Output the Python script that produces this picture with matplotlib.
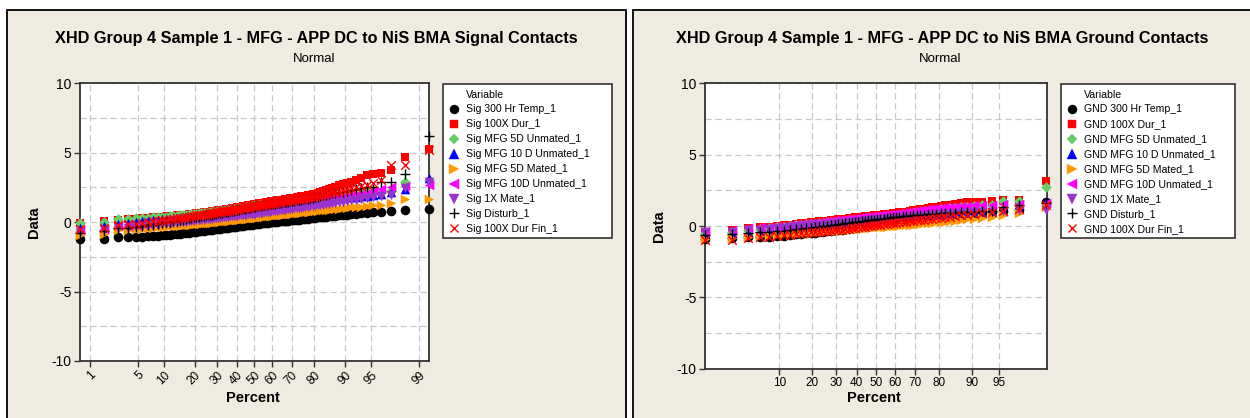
import numpy as np
import matplotlib
matplotlib.use('Agg')
import matplotlib.pyplot as plt
from matplotlib.lines import Line2D
from matplotlib.patches import Rectangle
from statistics import NormalDist

plt.rcParams['font.family'] = ['Liberation Sans', 'DejaVu Sans']
plt.rcParams['axes.unicode_minus'] = False

# ---- data: sorted values per variable ----
sig_labels = ['Sig 300 Hr Temp_1', 'Sig 100X Dur_1', 'Sig MFG 5D Unmated_1',
              'Sig MFG 10 D Unmated_1', 'Sig MFG 5D Mated_1', 'Sig MFG 10D Unmated_1',
              'Sig 1X Mate_1', 'Sig Disturb_1', 'Sig 100X Dur Fin_1']
gnd_labels = ['GND 300 Hr Temp_1', 'GND 100X Dur_1', 'GND MFG 5D Unmated_1',
              'GND MFG 10 D Unmated_1', 'GND MFG 5D Mated_1', 'GND MFG 10D Unmated_1',
              'GND 1X Mate_1', 'GND Disturb_1', 'GND 100X Dur Fin_1']

sig_300hr = [-1.22, -1.20, -1.10, -1.06, -1.05, -1.04, -1.02, -1.00, -0.98, -0.95,
             -0.93, -0.90, -0.88, -0.86, -0.83, -0.80, -0.78, -0.76, -0.73, -0.70,
             -0.68, -0.66, -0.64, -0.62, -0.60, -0.58, -0.56, -0.54, -0.52, -0.50,
             -0.48, -0.47, -0.45, -0.43, -0.42, -0.40, -0.38, -0.36, -0.34, -0.32,
             -0.31, -0.29, -0.28, -0.26, -0.24, -0.22, -0.21, -0.19, -0.17, -0.15,
             -0.14, -0.12, -0.10, -0.09, -0.07, -0.06, -0.04, -0.03, -0.01, 0.00,
             0.01, 0.02, 0.04, 0.05, 0.06, 0.07, 0.08, 0.09, 0.11, 0.12,
             0.14, 0.15, 0.17, 0.19, 0.20, 0.22, 0.24, 0.26, 0.28, 0.30,
             0.32, 0.34, 0.36, 0.38, 0.40, 0.42, 0.44, 0.46, 0.49, 0.52,
             0.55, 0.58, 0.61, 0.64, 0.67, 0.70, 0.72, 0.78, 0.90, 0.92]
sig_100x = [-0.05, 0.05, 0.15, 0.20, 0.25, 0.30, 0.32, 0.35, 0.38, 0.40,
            0.42, 0.44, 0.46, 0.49, 0.51, 0.53, 0.55, 0.57, 0.60, 0.62,
            0.64, 0.66, 0.68, 0.70, 0.72, 0.74, 0.76, 0.78, 0.80, 0.82,
            0.84, 0.86, 0.89, 0.91, 0.93, 0.96, 0.98, 1.00, 1.03, 1.05,
            1.07, 1.10, 1.12, 1.14, 1.17, 1.19, 1.21, 1.23, 1.26, 1.28,
            1.30, 1.32, 1.35, 1.37, 1.39, 1.41, 1.43, 1.46, 1.48, 1.50,
            1.52, 1.54, 1.57, 1.59, 1.61, 1.63, 1.65, 1.68, 1.70, 1.72,
            1.74, 1.77, 1.80, 1.82, 1.85, 1.88, 1.91, 1.94, 1.97, 2.00,
            2.05, 2.10, 2.16, 2.22, 2.30, 2.38, 2.46, 2.55, 2.65, 2.75,
            2.85, 2.92, 3.00, 3.20, 3.40, 3.50, 3.55, 3.75, 4.70, 5.25]
sig_5d_unmated = [-0.05, 0.02, 0.20, 0.22, 0.28, 0.30, 0.32, 0.34, 0.36, 0.38,
                  0.40, 0.42, 0.44, 0.46, 0.48, 0.50, 0.52, 0.54, 0.56, 0.58,
                  0.60, 0.61, 0.63, 0.65, 0.66, 0.68, 0.70, 0.71, 0.73, 0.75,
                  0.77, 0.79, 0.81, 0.83, 0.85, 0.87, 0.89, 0.91, 0.93, 0.95,
                  0.97, 0.99, 1.01, 1.03, 1.05, 1.07, 1.09, 1.11, 1.13, 1.15,
                  1.17, 1.18, 1.20, 1.21, 1.23, 1.24, 1.26, 1.27, 1.29, 1.30,
                  1.32, 1.33, 1.35, 1.36, 1.38, 1.39, 1.41, 1.42, 1.44, 1.45,
                  1.47, 1.48, 1.50, 1.51, 1.53, 1.54, 1.56, 1.57, 1.59, 1.60,
                  1.63, 1.66, 1.70, 1.73, 1.77, 1.80, 1.84, 1.87, 1.91, 1.95,
                  2.00, 2.05, 2.10, 2.15, 2.20, 2.20, 2.20, 2.25, 2.90, 3.00]
sig_10d_unmated = [-0.40, -0.25, -0.10, -0.05, 0.00, 0.05, 0.09, 0.13, 0.17, 0.20,
                   0.22, 0.24, 0.26, 0.28, 0.30, 0.32, 0.34, 0.36, 0.38, 0.40,
                   0.42, 0.44, 0.46, 0.48, 0.50, 0.52, 0.54, 0.56, 0.58, 0.60,
                   0.62, 0.64, 0.66, 0.68, 0.70, 0.71, 0.73, 0.75, 0.77, 0.78,
                   0.80, 0.82, 0.83, 0.85, 0.87, 0.88, 0.90, 0.92, 0.93, 0.95,
                   0.97, 0.98, 1.00, 1.01, 1.03, 1.04, 1.06, 1.07, 1.09, 1.10,
                   1.12, 1.14, 1.16, 1.18, 1.19, 1.21, 1.23, 1.25, 1.26, 1.28,
                   1.30, 1.31, 1.33, 1.35, 1.37, 1.38, 1.40, 1.42, 1.43, 1.45,
                   1.48, 1.51, 1.54, 1.57, 1.60, 1.63, 1.66, 1.69, 1.72, 1.75,
                   1.78, 1.81, 1.84, 1.87, 1.90, 1.95, 2.00, 2.15, 2.40, 3.15]
sig_5d_mated = [-0.95, -0.85, -0.60, -0.55, -0.50, -0.47, -0.44, -0.41, -0.38, -0.35,
                -0.33, -0.31, -0.29, -0.27, -0.25, -0.23, -0.21, -0.19, -0.17, -0.15,
                -0.14, -0.12, -0.11, -0.09, -0.08, -0.06, -0.05, -0.03, -0.02, 0.00,
                0.02, 0.03, 0.05, 0.06, 0.08, 0.09, 0.11, 0.12, 0.14, 0.15,
                0.17, 0.18, 0.20, 0.21, 0.23, 0.24, 0.26, 0.27, 0.29, 0.30,
                0.32, 0.33, 0.35, 0.36, 0.38, 0.39, 0.41, 0.42, 0.44, 0.45,
                0.47, 0.48, 0.50, 0.51, 0.53, 0.54, 0.56, 0.57, 0.59, 0.60,
                0.62, 0.64, 0.65, 0.67, 0.69, 0.71, 0.72, 0.74, 0.76, 0.78,
                0.80, 0.82, 0.84, 0.87, 0.89, 0.91, 0.93, 0.96, 0.98, 1.00,
                1.03, 1.06, 1.09, 1.12, 1.15, 1.20, 1.25, 1.40, 1.70, 1.70]
sig_10d_unmated_b = [-0.55, -0.50, -0.30, -0.25, -0.20, -0.15, -0.10, -0.05, 0.00, 0.05,
                     0.08, 0.10, 0.13, 0.15, 0.18, 0.20, 0.23, 0.25, 0.28, 0.30,
                     0.32, 0.34, 0.36, 0.38, 0.40, 0.42, 0.44, 0.46, 0.48, 0.50,
                     0.52, 0.54, 0.56, 0.58, 0.60, 0.62, 0.64, 0.66, 0.68, 0.70,
                     0.72, 0.74, 0.76, 0.78, 0.80, 0.82, 0.84, 0.86, 0.88, 0.90,
                     0.91, 0.93, 0.94, 0.96, 0.97, 0.99, 1.00, 1.02, 1.03, 1.05,
                     1.07, 1.09, 1.11, 1.13, 1.15, 1.17, 1.19, 1.21, 1.23, 1.25,
                     1.27, 1.29, 1.31, 1.33, 1.35, 1.37, 1.39, 1.41, 1.43, 1.45,
                     1.48, 1.52, 1.55, 1.59, 1.62, 1.66, 1.69, 1.73, 1.76, 1.80,
                     1.86, 1.92, 1.98, 2.04, 2.10, 2.25, 2.40, 2.50, 2.60, 2.65]
sig_1x_mate = [-0.70, -0.60, -0.45, -0.40, -0.35, -0.31, -0.27, -0.23, -0.19, -0.15,
               -0.12, -0.10, -0.07, -0.05, -0.02, 0.00, 0.03, 0.05, 0.08, 0.10,
               0.12, 0.14, 0.16, 0.18, 0.20, 0.22, 0.24, 0.26, 0.28, 0.30,
               0.32, 0.33, 0.35, 0.36, 0.38, 0.39, 0.41, 0.42, 0.44, 0.45,
               0.47, 0.48, 0.50, 0.51, 0.53, 0.54, 0.56, 0.57, 0.59, 0.60,
               0.62, 0.64, 0.66, 0.67, 0.69, 0.71, 0.73, 0.74, 0.76, 0.78,
               0.80, 0.81, 0.83, 0.85, 0.86, 0.88, 0.90, 0.92, 0.93, 0.95,
               0.97, 0.99, 1.01, 1.03, 1.05, 1.07, 1.09, 1.11, 1.13, 1.15,
               1.18, 1.21, 1.24, 1.27, 1.30, 1.33, 1.36, 1.39, 1.42, 1.45,
               1.51, 1.57, 1.63, 1.69, 1.75, 1.80, 1.85, 1.95, 2.45, 2.90]
sig_disturb = [-0.75, -0.65, -0.45, -0.40, -0.35, -0.29, -0.23, -0.17, -0.11, -0.05,
               -0.01, 0.03, 0.07, 0.11, 0.15, 0.19, 0.23, 0.27, 0.31, 0.35,
               0.38, 0.40, 0.43, 0.45, 0.48, 0.50, 0.53, 0.55, 0.58, 0.60,
               0.63, 0.65, 0.68, 0.70, 0.73, 0.75, 0.78, 0.80, 0.83, 0.85,
               0.88, 0.90, 0.93, 0.95, 0.98, 1.00, 1.03, 1.05, 1.08, 1.10,
               1.12, 1.14, 1.16, 1.18, 1.20, 1.22, 1.24, 1.26, 1.28, 1.30,
               1.32, 1.34, 1.36, 1.38, 1.40, 1.42, 1.44, 1.46, 1.48, 1.50,
               1.52, 1.55, 1.57, 1.60, 1.62, 1.65, 1.67, 1.70, 1.72, 1.75,
               1.80, 1.84, 1.89, 1.93, 1.98, 2.02, 2.07, 2.11, 2.16, 2.20,
               2.26, 2.32, 2.38, 2.44, 2.50, 2.55, 2.90, 2.90, 3.50, 6.20]
sig_100x_fin = [-0.50, -0.45, -0.20, -0.15, -0.10, -0.05, 0.00, 0.05, 0.10, 0.15,
                0.18, 0.21, 0.24, 0.27, 0.30, 0.33, 0.36, 0.39, 0.42, 0.45,
                0.48, 0.50, 0.53, 0.55, 0.58, 0.60, 0.63, 0.65, 0.68, 0.70,
                0.72, 0.74, 0.77, 0.79, 0.81, 0.83, 0.85, 0.88, 0.90, 0.92,
                0.94, 0.97, 0.99, 1.01, 1.04, 1.06, 1.08, 1.10, 1.13, 1.15,
                1.17, 1.19, 1.21, 1.23, 1.25, 1.27, 1.29, 1.31, 1.33, 1.35,
                1.37, 1.40, 1.42, 1.44, 1.47, 1.49, 1.51, 1.53, 1.56, 1.58,
                1.60, 1.62, 1.64, 1.67, 1.69, 1.71, 1.73, 1.75, 1.78, 1.80,
                1.85, 1.90, 1.95, 2.00, 2.05, 2.10, 2.15, 2.20, 2.25, 2.30,
                2.38, 2.46, 2.54, 2.62, 2.70, 2.85, 3.00, 4.10, 4.10, 5.20]

gnd_300hr = [-0.88, -0.85, -0.80, -0.78, -0.75, -0.71, -0.67, -0.63, -0.59, -0.55,
             -0.52, -0.49, -0.46, -0.43, -0.40, -0.37, -0.34, -0.31, -0.28, -0.25,
             -0.21, -0.18, -0.14, -0.11, -0.07, -0.04, 0.00, 0.03, 0.07, 0.10,
             0.13, 0.16, 0.19, 0.22, 0.25, 0.28, 0.31, 0.34, 0.37, 0.40,
             0.43, 0.46, 0.49, 0.52, 0.55, 0.58, 0.61, 0.64, 0.67, 0.70,
             0.73, 0.76, 0.79, 0.82, 0.85, 0.90, 0.95, 1.05, 1.15, 1.65]
gnd_100x = [-0.40, -0.30, -0.15, -0.10, -0.05, 0.00, 0.05, 0.10, 0.15, 0.20,
            0.23, 0.26, 0.29, 0.32, 0.35, 0.38, 0.41, 0.44, 0.47, 0.50,
            0.52, 0.55, 0.57, 0.60, 0.62, 0.65, 0.67, 0.70, 0.72, 0.75,
            0.77, 0.80, 0.82, 0.85, 0.87, 0.90, 0.92, 0.95, 0.97, 1.00,
            1.04, 1.09, 1.13, 1.18, 1.22, 1.27, 1.31, 1.36, 1.40, 1.45,
            1.50, 1.55, 1.60, 1.65, 1.70, 1.71, 1.72, 1.80, 1.85, 3.15]
gnd_5d_unmated = [-0.50, -0.40, -0.30, -0.22, -0.15, -0.10, -0.05, 0.00, 0.05, 0.10,
                  0.12, 0.15, 0.17, 0.20, 0.22, 0.25, 0.27, 0.30, 0.32, 0.35,
                  0.37, 0.39, 0.41, 0.43, 0.45, 0.47, 0.49, 0.51, 0.53, 0.55,
                  0.57, 0.60, 0.62, 0.65, 0.67, 0.70, 0.72, 0.75, 0.77, 0.80,
                  0.84, 0.88, 0.92, 0.96, 1.00, 1.04, 1.08, 1.12, 1.16, 1.20,
                  1.24, 1.28, 1.32, 1.36, 1.40, 1.45, 1.50, 1.75, 1.75, 2.70]
gnd_10d_unmated = [-0.55, -0.50, -0.40, -0.35, -0.30, -0.26, -0.22, -0.18, -0.14, -0.10,
                   -0.07, -0.05, -0.02, 0.00, 0.03, 0.05, 0.08, 0.10, 0.13, 0.15,
                   0.17, 0.19, 0.21, 0.23, 0.25, 0.27, 0.29, 0.31, 0.33, 0.35,
                   0.37, 0.39, 0.41, 0.43, 0.45, 0.47, 0.49, 0.51, 0.53, 0.55,
                   0.58, 0.61, 0.64, 0.67, 0.70, 0.73, 0.76, 0.79, 0.82, 0.85,
                   0.87, 0.89, 0.91, 0.93, 0.95, 0.97, 1.00, 1.05, 1.20, 1.70]
gnd_5d_mated = [-0.90, -0.85, -0.75, -0.70, -0.65, -0.62, -0.59, -0.56, -0.53, -0.50,
                -0.48, -0.46, -0.44, -0.42, -0.40, -0.38, -0.36, -0.34, -0.32, -0.30,
                -0.28, -0.26, -0.24, -0.22, -0.20, -0.18, -0.16, -0.14, -0.12, -0.10,
                -0.08, -0.07, -0.05, -0.04, -0.02, -0.01, 0.01, 0.02, 0.04, 0.05,
                0.08, 0.10, 0.13, 0.15, 0.18, 0.20, 0.23, 0.25, 0.28, 0.30,
                0.34, 0.38, 0.42, 0.46, 0.50, 0.55, 0.60, 0.75, 0.90, 1.30]
gnd_10d_unmated_b = [-0.35, -0.25, -0.15, -0.10, -0.05, -0.01, 0.03, 0.07, 0.11, 0.15,
                     0.18, 0.21, 0.24, 0.27, 0.30, 0.33, 0.36, 0.39, 0.42, 0.45,
                     0.47, 0.50, 0.52, 0.55, 0.57, 0.60, 0.62, 0.65, 0.67, 0.70,
                     0.72, 0.75, 0.77, 0.80, 0.82, 0.85, 0.87, 0.90, 0.92, 0.95,
                     0.99, 1.02, 1.06, 1.09, 1.13, 1.16, 1.20, 1.23, 1.27, 1.30,
                     1.33, 1.36, 1.39, 1.42, 1.45, 1.48, 1.50, 1.55, 1.55, 1.60]
gnd_1x_mate = [-0.45, -0.40, -0.30, -0.25, -0.20, -0.16, -0.12, -0.08, -0.04, 0.00,
               0.02, 0.04, 0.06, 0.08, 0.10, 0.12, 0.14, 0.16, 0.18, 0.20,
               0.22, 0.24, 0.26, 0.28, 0.30, 0.32, 0.34, 0.36, 0.38, 0.40,
               0.42, 0.43, 0.45, 0.46, 0.48, 0.49, 0.51, 0.52, 0.54, 0.55,
               0.58, 0.60, 0.63, 0.65, 0.68, 0.70, 0.73, 0.75, 0.78, 0.80,
               0.83, 0.86, 0.89, 0.92, 0.95, 0.98, 1.00, 1.05, 1.10, 1.15]
gnd_disturb = [-0.60, -0.55, -0.50, -0.45, -0.40, -0.36, -0.32, -0.28, -0.24, -0.20,
               -0.16, -0.13, -0.09, -0.06, -0.02, 0.01, 0.05, 0.08, 0.12, 0.15,
               0.18, 0.21, 0.24, 0.27, 0.30, 0.33, 0.36, 0.39, 0.42, 0.45,
               0.47, 0.50, 0.52, 0.55, 0.57, 0.60, 0.62, 0.65, 0.67, 0.70,
               0.72, 0.74, 0.76, 0.78, 0.80, 0.82, 0.84, 0.86, 0.88, 0.90,
               0.92, 0.94, 0.96, 0.98, 1.00, 1.02, 1.05, 1.30, 1.45, 1.60]
gnd_100x_fin = [-0.95, -0.95, -0.85, -0.80, -0.75, -0.70, -0.65, -0.60, -0.55, -0.50,
                -0.48, -0.45, -0.43, -0.40, -0.38, -0.35, -0.33, -0.30, -0.28, -0.25,
                -0.22, -0.19, -0.16, -0.13, -0.10, -0.07, -0.04, -0.01, 0.02, 0.05,
                0.08, 0.10, 0.13, 0.15, 0.18, 0.20, 0.23, 0.25, 0.28, 0.30,
                0.33, 0.36, 0.39, 0.42, 0.45, 0.48, 0.51, 0.54, 0.57, 0.60,
                0.65, 0.70, 0.75, 0.80, 0.85, 0.90, 0.95, 1.05, 1.20, 1.50]

sig_series = [sig_300hr, sig_100x, sig_5d_unmated, sig_10d_unmated, sig_5d_mated,
              sig_10d_unmated_b, sig_1x_mate, sig_disturb, sig_100x_fin]
gnd_series = [gnd_300hr, gnd_100x, gnd_5d_unmated, gnd_10d_unmated, gnd_5d_mated,
              gnd_10d_unmated_b, gnd_1x_mate, gnd_disturb, gnd_100x_fin]

sig_pct_ticks = [1, 5, 10, 20, 30, 40, 50, 60, 70, 80, 90, 95, 99]
gnd_pct_ticks = [10, 20, 30, 40, 50, 60, 70, 80, 90, 95]

# marker, colour, scatter size, line width, legend size (Minitab symbol set)
symbols = [('o', 'black', 48, 0, 6.5), ('s', '#FF0000', 40, 0, 6),
           ('D', '#66CC66', 30, 0, 5.5), ('^', '#0000FF', 48, 0, 6.5),
           ('>', '#FF9900', 48, 0, 6.5), ('<', '#FF00FF', 48, 0, 6.5),
           ('v', '#9933CC', 48, 0, 6.5), ('+', 'black', 50, 1.0, 7),
           ('x', '#FF0000', 38, 1.0, 6)]

BEIGE = '#EFEBE1'
W, H = 1250, 418
nd = NormalDist()


def fwd(p):
    p = np.clip(np.asarray(p, dtype=float), 1e-6, 100 - 1e-6)
    return np.vectorize(lambda v: nd.inv_cdf(v / 100.0), otypes=[float])(p)


def inv(z):
    z = np.asarray(z, dtype=float)
    return np.vectorize(lambda v: nd.cdf(v) * 100.0, otypes=[float])(z)


def fx(px):
    return px / W


def fy(py):
    return 1 - py / H


fig = plt.figure(figsize=(12.5, 4.18), dpi=100, facecolor='white')

# beige panels with black outline
fig.add_artist(Rectangle((fx(7), fy(440)), fx(619), fy(9.5) - fy(440), transform=fig.transFigure,
                         facecolor=BEIGE, edgecolor='black', lw=1.3, zorder=-20))
fig.add_artist(Rectangle((fx(633), fy(440)), fx(640), fy(9.5) - fy(440), transform=fig.transFigure,
                         facecolor=BEIGE, edgecolor='black', lw=1.3, zorder=-20))


def probplot(box, series, labels, ticks, xlim, rotate, title, tcx, legbox):
    x0, y0, x1, y1 = box
    ax = fig.add_axes([fx(x0), fy(y1), fx(x1 - x0), fy(y0) - fy(y1)])
    ax.set_xscale('function', functions=(fwd, inv))
    ax.set_facecolor('white')
    handles = [Line2D([], [], linestyle='none', marker='', label='Variable')]
    for vals, lab, (m, c, s, lw, ms) in zip(series, labels, symbols):
        n = len(vals)
        pos = (np.arange(1, n + 1) - 0.3) / (n + 0.4) * 100
        ax.scatter(pos, vals, marker=m, s=s, color=c, linewidths=lw,
                   clip_on=False, zorder=3)
        handles.append(Line2D([], [], linestyle='none', marker=m, color=c,
                              markersize=ms, markeredgewidth=lw if lw else 0.3,
                              label=lab))
    ax.set_xlim(*xlim)
    ax.set_ylim(-10, 10)
    ax.set_xticks(ticks)
    if rotate:
        ax.set_xticklabels([str(t) for t in ticks], rotation=45, ha='right',
                           rotation_mode='anchor', fontsize=8.5)
    else:
        ax.set_xticklabels([str(t) for t in ticks], fontsize=8.5)
    ax.xaxis.set_minor_locator(plt.NullLocator())
    ax.set_yticks([-10, -5, 0, 5, 10])
    ax.set_yticks([-7.5, -2.5, 2.5, 7.5], minor=True)
    ax.tick_params(axis='y', which='minor', length=0)
    ax.tick_params(axis='both', which='major', direction='out', length=4, width=1,
                   color='#333333', pad=2)
    ax.tick_params(axis='y', labelsize=10)
    ax.grid(True, axis='x', which='major', color='#C8C8C8', lw=0.9, ls=(0, (5, 3)))
    ax.grid(True, axis='y', which='both', color='#C8C8C8', lw=0.9, ls=(0, (5, 3)))
    ax.set_axisbelow(True)
    for sp in ax.spines.values():
        sp.set_color('#333333')
        sp.set_linewidth(1.3)

    fig.text(fx(tcx), fy(39), title, ha='center', va='center', fontsize=11.7, fontweight='bold')
    fig.text(fx(tcx - 1.5), fy(59), 'Normal', ha='center', va='center', fontsize=9.5)
    fig.text(fx(x0 - 46), fy((y0 + y1) / 2), 'Data', ha='center', va='center',
             rotation=90, fontsize=10.5, fontweight='bold')
    fig.text(fx((x0 + x1) / 2 - 2), fy(398), 'Percent', ha='center', va='center',
             fontsize=10.5, fontweight='bold')

    lx0, ly0, lx1, ly1 = legbox
    fig.add_artist(Rectangle((fx(lx0), fy(ly1)), fx(lx1 - lx0), fy(ly0) - fy(ly1),
                             transform=fig.transFigure, facecolor='white',
                             edgecolor='#222222', lw=1.1, zorder=-5))
    fig.legend(handles=handles, loc='upper left', bbox_to_anchor=(fx(lx0 + 5), fy(ly0 + 5.5)),
               bbox_transform=fig.transFigure, frameon=False, fontsize=7.6, borderpad=0,
               handlelength=1.1, handletextpad=0.6, labelspacing=0.47, borderaxespad=0)
    return ax


probplot((79.7, 83.3, 429.2, 361.0), sig_series, sig_labels, sig_pct_ticks,
         (0.68, 99.32), True,
         'XHD Group 4 Sample 1 - MFG - APP DC to NiS BMA Signal Contacts', 316,
         (443, 84, 612, 238))
probplot((704.7, 83.3, 1046.7, 368.7), gnd_series, gnd_labels, gnd_pct_ticks,
         (1.14, 98.86), False,
         'XHD Group 4 Sample 1 - MFG - APP DC to NiS BMA Ground Contacts', 942,
         (1061, 84, 1235, 238))

fig.savefig('out.png', dpi=100, facecolor='white')
